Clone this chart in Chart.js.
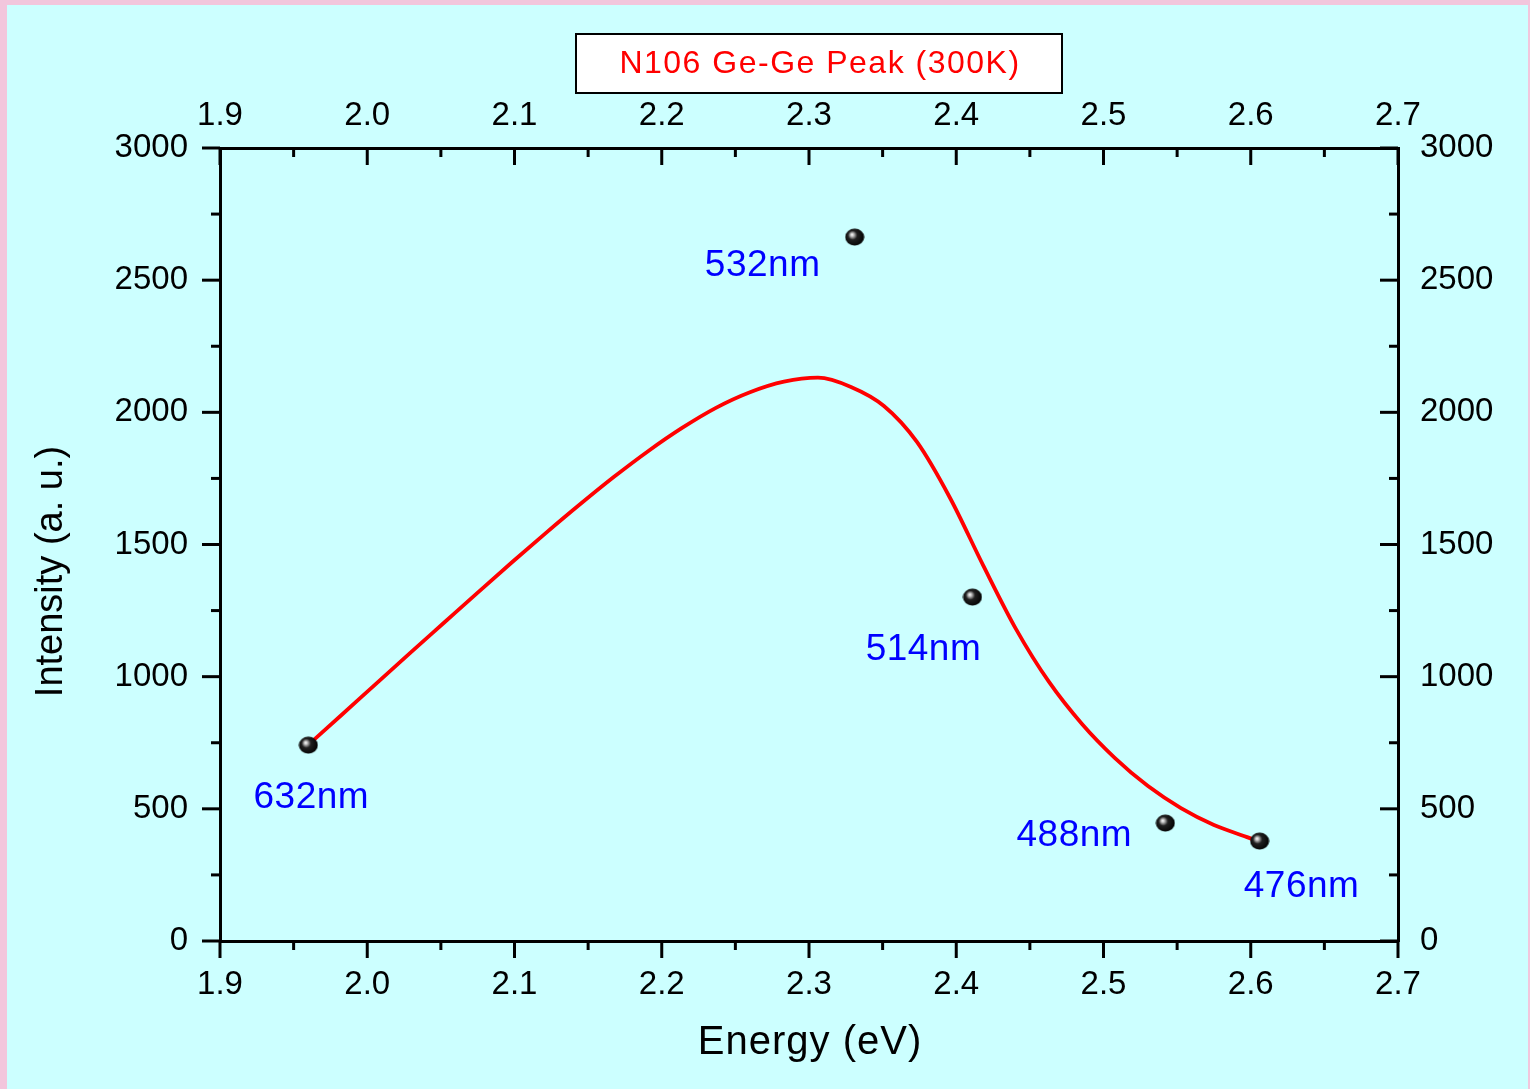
<!DOCTYPE html>
<html>
<head>
<meta charset="utf-8">
<title>N106 Ge-Ge Peak (300K)</title>
<script src="https://cdn.jsdelivr.net/npm/chart.js@4.4.1/dist/chart.umd.min.js"></script>
<style>
    html, body { margin: 0; padding: 0; }
    body { width: 1530px; height: 1089px; background: #f2c6dc; position: relative; overflow: hidden; }
    #wrap { position: absolute; left: 7px; top: 5px; width: 1521px; height: 1084px; background: #ccffff; }
</style>
</head>
<body>
<div id="wrap"><canvas id="peakChart" width="1521" height="1084"></canvas></div>
<script>
// ------------------------------------------------------------
// Datos
// ------------------------------------------------------------

// Puntos medidos (energía del láser vs intensidad)
const laserLabels = ["632nm", "532nm", "514nm", "488nm", "476nm"];
const laserEnergy = [1.96, 2.331, 2.411, 2.542, 2.606];
const laserIntensity = [741, 2663, 1301, 446, 378];

// Curva de ajuste (roja)
const fitEnergy = [1.9598, 1.9829, 2.0059, 2.029, 2.0521, 2.0752, 2.0983, 2.1214, 2.1445, 2.1676,
    2.1907, 2.2138, 2.2368, 2.2599, 2.283, 2.3061, 2.3285, 2.3509, 2.3733, 2.3958,
    2.4182, 2.4406, 2.463, 2.4854, 2.5078, 2.5302, 2.5526, 2.575, 2.5975, 2.6042];
const fitIntensity = [741, 857, 973, 1089, 1204, 1319, 1433, 1544, 1652, 1756,
    1853, 1941, 2017, 2076, 2116, 2131, 2096, 2024, 1888, 1676,
    1422, 1180, 980, 821, 692, 586, 503, 439, 393, 378];

// Ejes
const energyTicks = [1.9, 2.0, 2.1, 2.2, 2.3, 2.4, 2.5, 2.6, 2.7];
const energyMinor = [1.95, 2.05, 2.15, 2.25, 2.35, 2.45, 2.55, 2.65];
const intensityTicks = [0, 500, 1000, 1500, 2000, 2500, 3000];
const intensityMinor = [250, 750, 1250, 1750, 2250, 2750];

// Desplazamiento de cada etiqueta respecto a su punto (px)
const labelOffsets = [[3, 53], [-92, 29], [-49, 53], [-91, 13], [42, 46]];

const FONT = "'Liberation Sans', Arial, sans-serif";
Chart.defaults.font.family = FONT;
Chart.defaults.color = "#000";

// Marcador tipo esfera negra con brillo
function makeBall(w, h) {
    const c = document.createElement("canvas");
    c.width = w; c.height = h;
    const g = c.getContext("2d");
    const grad = g.createRadialGradient(w * 0.36, h * 0.36, 0, w * 0.45, h * 0.45, w * 0.55);
    grad.addColorStop(0, "#ffffff");
    grad.addColorStop(0.14, "#c8c8c8");
    grad.addColorStop(0.42, "#202020");
    grad.addColorStop(1, "#000000");
    g.fillStyle = grad;
    g.beginPath();
    g.ellipse(w / 2, h / 2, w / 2 - 0.5, h / 2 - 0.5, 0, 0, Math.PI * 2);
    g.fill();
    return c;
}
const ball = makeBall(20, 18);

// ------------------------------------------------------------
// Plugin: ticks estilo Origin (fuera en izq/abajo, dentro arriba/der)
// ------------------------------------------------------------
const originTicks = {
    id: "originTicks",
    afterDraw(chart) {
        const ctx = chart.ctx;
        const a = chart.chartArea;
        const sx = chart.scales.x, sy = chart.scales.y;
        ctx.save();
        ctx.strokeStyle = "#000";
        ctx.lineWidth = 3;
        const line = (x1, y1, x2, y2) => {
            ctx.beginPath(); ctx.moveTo(x1, y1); ctx.lineTo(x2, y2); ctx.stroke();
        };
        const drawX = (vals, len) => {
            vals.forEach(v => {
                const px = sx.getPixelForValue(v);
                line(px, a.bottom, px, a.bottom + len);
                line(px, a.top, px, a.top + len);
            });
        };
        const drawY = (vals, len) => {
            vals.forEach(v => {
                const py = sy.getPixelForValue(v);
                line(a.left - len, py, a.left, py);
                line(a.right - len, py, a.right, py);
            });
        };
        drawX(energyTicks, 17);
        drawX(energyMinor, 9);
        drawY(intensityTicks, 18);
        drawY(intensityMinor, 9);
        ctx.restore();
    }
};

// ------------------------------------------------------------
// Plugin: etiquetas, títulos de ejes y caja de título
// ------------------------------------------------------------
const annotations = {
    id: "annotations",
    afterDraw(chart) {
        const ctx = chart.ctx;
        const a = chart.chartArea;
        const cx = (a.left + a.right) / 2;
        const cy = (a.top + a.bottom) / 2;
        ctx.save();

        // etiquetas de longitud de onda
        const meta = chart.getDatasetMeta(0);
        ctx.fillStyle = "#0000ff";
        ctx.font = "37px " + FONT;
        ctx.letterSpacing = "0.5px";
        ctx.textAlign = "center";
        ctx.textBaseline = "middle";
        meta.data.forEach((pt, i) => {
            ctx.fillText(laserLabels[i], pt.x + labelOffsets[i][0], pt.y + labelOffsets[i][1]);
        });

        // títulos de ejes
        ctx.fillStyle = "#000";
        ctx.font = "40px " + FONT;
        ctx.letterSpacing = "1px";
        ctx.fillText("Energy (eV)", cx + 1, a.bottom + 102);
        ctx.save();
        ctx.translate(a.left - 168, cy + 27);
        ctx.rotate(-Math.PI / 2);
        ctx.letterSpacing = "0px";
        ctx.font = "38px " + FONT;
        ctx.fillText("Intensity (a. u.)", 0, 0);
        ctx.restore();

        // caja de título
        const bw = 486, bh = 59;
        const bx = cx + 10 - bw / 2, by = a.top - 114;
        ctx.fillStyle = "#ffffff";
        ctx.fillRect(bx, by, bw, bh);
        ctx.strokeStyle = "#000";
        ctx.lineWidth = 2;
        ctx.strokeRect(bx, by, bw, bh);
        ctx.fillStyle = "#ff0000";
        ctx.font = "32px " + FONT;
        ctx.letterSpacing = "1.5px";
        ctx.fillText("N106 Ge-Ge Peak (300K)", cx + 11, by + bh / 2 + 1);
        ctx.restore();
    }
};

const axisBorder = { display: true, color: "#000", width: 3 };
const noGrid = { display: false, drawTicks: false };
const tickFont = { size: 33 };
const plainNum = v => String(v);

new Chart(document.getElementById("peakChart"), {
    type: "scatter",
    data: {
        datasets: [
            {
                label: "Laser",
                data: laserEnergy.map((e, i) => ({ x: e, y: laserIntensity[i] })),
                pointStyle: ball,
                pointRadius: 10,
                showLine: false
            },
            {
                label: "Fit",
                data: fitEnergy.map((e, i) => ({ x: e, y: fitIntensity[i] })),
                showLine: true,
                borderColor: "#ff0000",
                borderWidth: 3.8,
                pointRadius: 0,
                cubicInterpolationMode: "monotone",
                fill: false
            }
        ]
    },
    options: {
        responsive: false,
        animation: false,
        layout: { padding: 0 },
        plugins: {
            legend: { display: false },
            tooltip: { enabled: false }
        },
        scales: {
            x: {
                type: "linear", position: "bottom", min: 1.9, max: 2.7,
                grid: noGrid, border: axisBorder,
                ticks: { stepSize: 0.1, font: tickFont, padding: 24, maxRotation: 0,
                    callback: v => v.toFixed(1) },
                afterFit: s => { s.height = 148; }
            },
            x2: {
                type: "linear", axis: "x", position: "top", min: 1.9, max: 2.7,
                grid: noGrid, border: axisBorder,
                ticks: { stepSize: 0.1, font: tickFont, padding: 12, maxRotation: 0,
                    callback: v => v.toFixed(1) },
                afterFit: s => { s.height = 143; }
            },
            y: {
                type: "linear", position: "left", min: 0, max: 3000,
                grid: noGrid, border: axisBorder,
                ticks: { stepSize: 500, font: tickFont, padding: 32, callback: plainNum },
                afterFit: s => { s.width = 213; }
            },
            y2: {
                type: "linear", axis: "y", position: "right", min: 0, max: 3000,
                grid: noGrid, border: axisBorder,
                ticks: { stepSize: 500, font: tickFont, padding: 22, callback: plainNum },
                afterFit: s => { s.width = 130; }
            }
        }
    },
    plugins: [originTicks, annotations]
});
</script>
</body>
</html>
